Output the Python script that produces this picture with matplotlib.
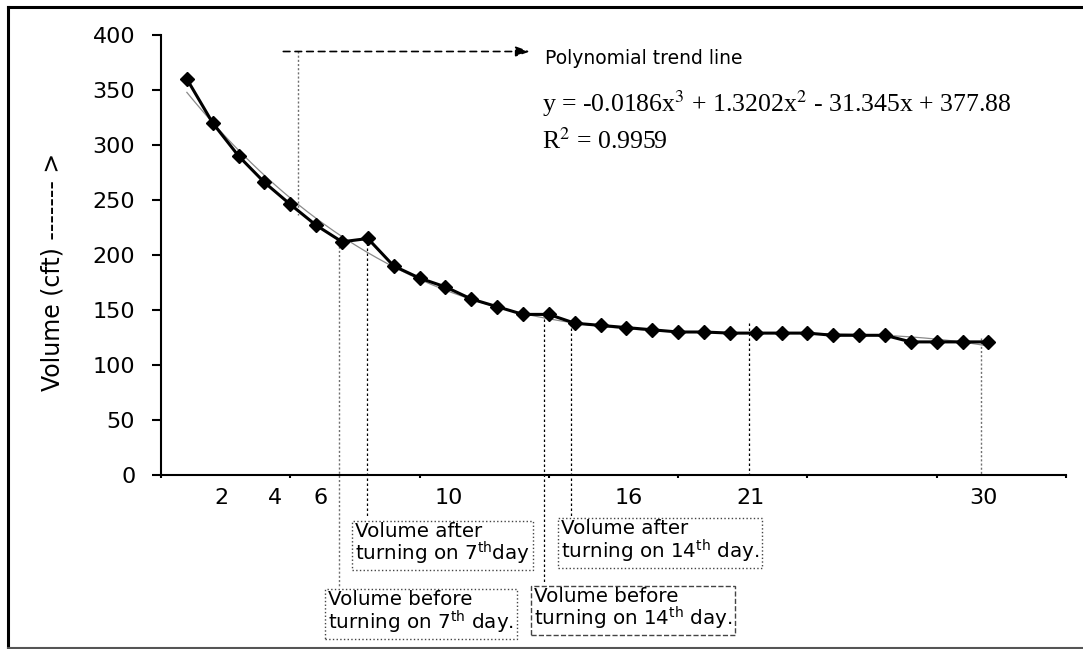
import numpy as np
import matplotlib
matplotlib.use("Agg")
import matplotlib.pyplot as plt
from matplotlib.lines import Line2D

# Heap volume readings (cft), one per observation
obs = np.arange(1, 33)
volume = [360, 320, 290, 266, 246, 227, 212, 215, 190, 179, 171, 160, 153, 146, 146, 138,
          136, 134, 132, 130, 130, 129, 129, 129, 129, 127, 127, 127, 121, 121, 121, 121]

# Cubic trend line and its fit quality
trend_coef = [-0.0186, 1.3202, -31.345, 377.88]
r_squared = 0.9959

# Day labels shown under the axis
day_labels = ["2", "4", "6", "10", "16", "21", "30"]

# ---------------------------------------------------------------- layout
W, H = 1083, 649
fig = plt.figure(figsize=(W / 100, H / 100), dpi=100)
ax = fig.add_axes([161 / W, (H - 475) / H, (1066 - 161) / W, 440 / H])
ax.set_xlim(0, 35)
ax.set_ylim(0, 400)

for s in ("top", "right"):
    ax.spines[s].set_visible(False)
for s in ("left", "bottom"):
    ax.spines[s].set_linewidth(1.5)

ax.set_yticks(np.arange(0, 401, 50))
ax.tick_params(axis="y", direction="out", length=6.5, width=1.5, pad=12, labelsize=16)

ax.set_xticks(np.arange(0, 36, 5))
ax.tick_params(axis="x", which="major", direction="out", length=2.5, width=1.5,
               labelbottom=False)
label_pos = [2.33, 4.41, 6.18, 11.14, 18.07, 22.8, 31.81]
ax.set_xticks(label_pos, labels=day_labels, minor=True)
ax.tick_params(axis="x", which="minor", length=0, pad=9, labelsize=16, labelbottom=True)

# ---------------------------------------------------------------- series
xt = np.linspace(obs[0], obs[-1], 300)
ax.plot(xt, np.polyval(trend_coef, xt), color="#8a8a8a", lw=0.9, zorder=2)
ax.plot(obs, volume, color="black", lw=2.2, marker="D", ms=7, zorder=3)

# ---------------------------------------------------------------- guide lines
dot_grey = dict(color="#707070", lw=1.0, ls=(0, (1.5, 1.5)), clip_on=False, zorder=1)
dot_black = dict(color="black", lw=0.9, ls=(0, (2, 2)), clip_on=False, zorder=1)

ax.plot([5.29, 5.29], [385, 236], **dot_grey)
ax.plot([6.88, 6.88], [volume[6], -101.5], **dot_grey)
ax.plot([7.95, 7.95], [volume[7], -39.4], **dot_black)
ax.plot([14.82, 14.82], [volume[14], -98.4], **dot_black)
ax.plot([15.85, 15.85], [volume[15], -37.0], **dot_black)
ax.plot([22.75, 22.75], [138, 0], **dot_black)
ax.plot([31.73, 31.73], [124.5, 0], **dot_grey)

# arrow pointing to the trend line description
ax.annotate("", xy=(14.27, 385), xytext=(4.73, 385), annotation_clip=False,
            arrowprops=dict(arrowstyle="-|>,head_length=0.85,head_width=0.3",
                            mutation_scale=10, ls=(0, (4, 3)), lw=1.2,
                            color="black", shrinkA=0, shrinkB=0))

ax.text(14.85, 379, "Polynomial trend line", fontsize=13.5, ha="left", va="center")

a, b, c, d = trend_coef
eq = f"y = {a}x$^3$ + {b}x$^2$ - {abs(c)}x + {d}"
serif = dict(family="Liberation Serif", fontsize=18.5, math_fontfamily="stix",
             ha="left", va="baseline")
ax.text(14.72, 330.2, eq, **serif)
ax.text(14.72, 296.9, f"R$^2$ = {r_squared}", **serif)

# ---------------------------------------------------------------- note boxes
def note(x, y, txt, ls):
    ax.text(x, y, txt, fontsize=14.3, ha="left", va="top", linespacing=0.98,
            math_fontfamily="dejavusans", clip_on=False, zorder=4,
            bbox=dict(boxstyle="square,pad=0.15", fc="white", ec="#444444",
                      ls=ls, lw=1.0))

note(6.47, -104.5, "Volume before\nturning on 7$^{\\mathrm{th}}$ day.", ":")
note(7.52, -42.3, "Volume after\nturning on 7$^{\\mathrm{th}}$day", ":")
note(14.42, -101.4, "Volume before\nturning on 14$^{\\mathrm{th}}$ day.", "--")
note(15.46, -39.9, "Volume after\nturning on 14$^{\\mathrm{th}}$ day.", ":")

# ---------------------------------------------------------------- axis title and frame
fig.text(53 / W, 1 - 272 / H, "Volume (cft) ------- >", rotation=90, fontsize=17,
         ha="center", va="center")

fig.add_artist(Line2D([8 / W, 1], [1 - 6.7 / H] * 2, color="black", lw=2.2))
fig.add_artist(Line2D([8.3 / W] * 2, [1 - 6.7 / H, 1 - 647.5 / H], color="black", lw=2.2))
fig.add_artist(Line2D([8 / W, 1], [1 - 647.5 / H] * 2, color="#555555", lw=1.5))

fig.savefig("out.png", dpi=100)
